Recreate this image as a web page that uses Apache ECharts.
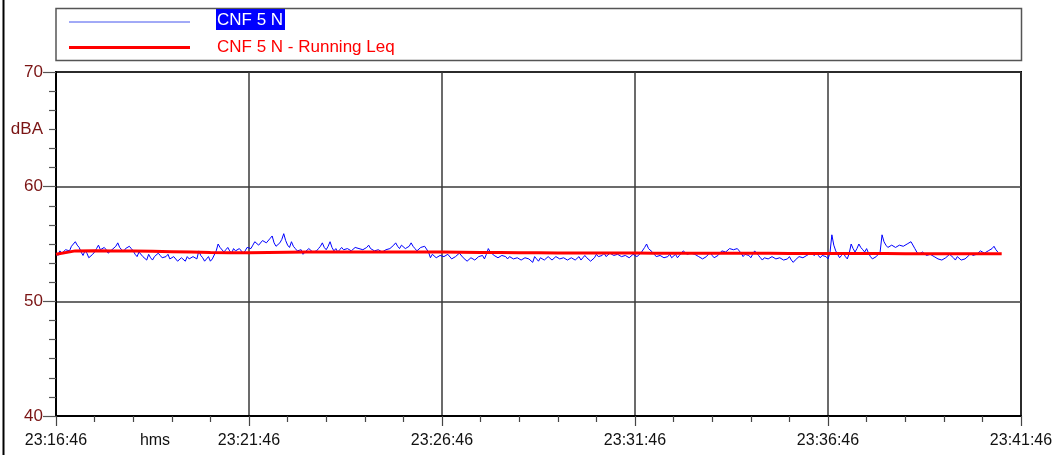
<!DOCTYPE html>
<html>
<head>
<meta charset="utf-8">
<script src="https://cdn.jsdelivr.net/npm/echarts@6/dist/echarts.min.js"></script>
<style>
html,body{margin:0;padding:0;background:#fff;}
#chart{width:1055px;height:455px;}
</style>
</head>
<body>
<div id="chart"></div>
<script>
// ---- data ----
const startClock = '23:16:46';
const xTickSeconds = [0, 300, 600, 900, 1200, 1500];
const yTicks = [40, 50, 60, 70];
const seriesNames = ['CNF 5 N', 'CNF 5 N - Running Leq'];
const levelStepSec = 3;
const levelValues = [
  54.2,54.0,54.4,54.2,54.3,54.5,54.6,54.4,54.8,55.0,55.2,54.9,54.7,54.3,54.0,54.4,54.2,53.8,53.9,54.1,
  54.3,54.6,54.9,54.5,54.4,54.7,54.5,54.2,54.3,54.5,54.6,54.8,55.1,54.7,54.5,54.3,54.6,54.5,54.8,54.6,
  54.4,54.1,53.9,54.3,54.2,53.9,53.8,53.6,54.1,53.8,53.6,53.9,53.9,54.2,54.0,53.8,53.7,53.9,54.1,53.7,
  53.6,53.9,53.8,53.5,53.4,53.8,53.7,53.5,53.9,53.7,53.6,53.9,54.0,53.7,54.4,54.0,53.8,53.5,53.7,53.9,
  53.5,53.7,53.8,54.4,55.0,54.7,54.6,54.3,54.5,54.7,54.4,54.2,54.6,54.4,54.3,54.6,54.5,54.2,54.4,54.7,
  54.8,54.6,54.9,55.2,55.1,54.9,55.0,55.3,55.4,55.1,55.2,55.5,55.7,55.1,54.8,54.9,55.1,55.4,55.9,55.3,
  54.9,54.7,55.2,54.8,54.6,54.4,54.3,54.5,54.1,54.3,54.4,54.6,54.5,54.3,54.2,54.4,54.6,54.8,55.1,54.7,
  54.5,54.8,55.2,54.7,54.4,54.6,54.3,54.5,54.7,54.5,54.4,54.6,54.6,54.4,54.5,54.7,54.8,54.6,54.7,54.5,
  54.5,54.7,54.9,54.6,54.6,54.4,54.3,54.5,54.5,54.3,54.2,54.5,54.4,54.6,54.7,54.9,55.1,54.8,54.6,54.9,
  54.8,54.6,54.5,54.8,55.1,54.8,54.6,54.4,54.4,54.7,54.6,54.8,54.9,54.3,53.8,54.1,54.0,53.8,53.7,54.0,
  54.1,53.9,53.8,54.1,54.0,53.7,53.6,53.9,53.9,54.2,54.1,53.8,53.7,53.5,53.5,53.8,53.9,53.6,53.6,53.9,
  53.8,54.0,53.7,54.1,54.6,54.3,54.2,54.0,54.0,53.8,53.8,54.0,54.1,53.9,53.7,53.9,53.9,53.7,53.6,53.8,
  53.8,53.6,53.5,53.8,53.9,53.7,53.6,53.4,53.9,53.7,53.5,53.8,53.8,53.6,53.6,53.9,53.9,53.6,53.7,53.9,
  54.0,53.7,53.6,53.8,53.8,53.6,53.5,53.8,53.9,53.6,53.7,53.9,53.6,53.8,54.0,53.8,53.7,53.5,53.5,53.8,
  54.1,53.9,53.8,54.0,54.2,53.9,54.0,54.2,54.3,54.0,53.9,54.1,54.1,53.9,53.8,54.0,54.0,53.8,53.9,54.1,
  54.1,53.9,54.0,54.2,54.3,54.7,55.0,54.6,54.5,54.3,54.1,53.9,53.8,54.0,54.0,53.8,53.7,53.9,54.1,53.8,
  53.9,54.1,53.8,54.0,54.2,54.4,54.4,54.1,54.0,54.2,54.3,54.1,54.1,53.9,53.9,53.7,53.7,53.9,54.1,54.3,
  54.0,53.8,53.8,54.0,54.2,54.4,54.5,54.3,54.3,54.6,54.7,54.5,54.4,54.6,54.5,54.2,53.9,54.1,54.2,54.0,
  53.8,54.1,54.4,54.2,54.0,53.8,53.6,53.8,53.9,53.7,53.7,53.9,54.0,53.7,53.6,53.8,53.8,53.6,53.5,53.7,
  53.9,53.6,53.4,53.6,53.7,53.9,54.0,53.8,53.8,54.0,54.1,54.2,54.3,54.0,54.2,54.0,53.8,54.0,54.1,53.9,
  53.7,54.2,55.8,54.9,54.4,54.1,53.8,54.0,54.2,53.9,53.7,54.2,55.0,54.6,54.3,54.6,55.0,54.7,54.5,54.3,
  54.6,54.2,53.9,53.7,53.7,53.9,54.0,54.3,55.8,55.2,54.9,54.7,54.7,54.9,54.9,54.7,54.8,54.9,55.0,54.8,
  54.8,55.0,54.9,55.2,55.1,54.6,54.3,54.1,54.0,54.3,54.2,54.0,53.9,54.1,54.1,53.9,54.0,53.7,53.8,53.6,
  53.5,53.8,53.9,54.1,54.1,53.8,53.6,53.9,53.8,53.6,53.5,53.7,53.8,54.0,54.2,54.0,53.9,54.1,54.2,54.4,
  54.5,54.2,54.1,54.4,54.3,54.6,54.8,54.5,54.3
];
const leqStepSec = 30;
const leqValues = [
  54.10,54.40,54.42,54.40,54.38,54.36,54.33,54.30,54.26,54.24,
  54.23,54.26,54.28,54.30,54.30,54.30,54.30,54.30,54.30,54.30,
  54.30,54.28,54.26,54.25,54.24,54.23,54.22,54.22,54.22,54.21,
  54.21,54.20,54.20,54.20,54.20,54.19,54.19,54.19,54.18,54.18,
  54.18,54.17,54.17,54.17,54.16,54.16,54.16,54.16,54.16,54.16
];

// ---- helpers ----
function clockToSec(s){const p=s.split(':').map(Number);return p[0]*3600+p[1]*60+p[2];}
const base = clockToSec(startClock);
function secToClock(v){
  let t = Math.round(base + v);
  const h = Math.floor(t/3600)%24, m = Math.floor(t%3600/60), s = t%60;
  const pad = n => String(n).padStart(2,'0');
  return pad(h)+':'+pad(m)+':'+pad(s);
}
const levelData = levelValues.map((v,i)=>[i*levelStepSec, v]);
const leqData = leqValues.map((v,i)=>[i*leqStepSec, v]);

const FONT = '"Liberation Sans", Arial, sans-serif';
const chart = echarts.init(document.getElementById('chart'), null, {renderer:'canvas'});
chart.setOption({
  animation:false,
  backgroundColor:'#fff',
  grid:{left:56, right:34, top:72, bottom:39, containLabel:false, outerBoundsMode:'none',
        show:true, borderColor:'#000', borderWidth:2, backgroundColor:'transparent'},
  xAxis:{
    type:'value', min:xTickSeconds[0], max:xTickSeconds[xTickSeconds.length-1],
    interval:xTickSeconds[1]-xTickSeconds[0],
    axisLine:{show:true, lineStyle:{color:'#000', width:2}},
    axisTick:{show:true, length:10, lineStyle:{color:'#444', width:1.2}},
    minorTick:{show:true, splitNumber:5, length:6, lineStyle:{color:'#444', width:1.2}},
    splitLine:{show:true, lineStyle:{color:'#3a3a3a', width:1.5}},
    axisLabel:{formatter:v=>secToClock(v), color:'#111', fontFamily:FONT, fontSize:16, margin:17, showMinLabel:true, showMaxLabel:true, hideOverlap:false}
  },
  yAxis:{
    type:'value', min:yTicks[0], max:yTicks[yTicks.length-1], interval:yTicks[1]-yTicks[0],
    axisLine:{show:true, lineStyle:{color:'#000', width:2}},
    axisTick:{show:true, length:13, lineStyle:{color:'#555', width:1.2}},
    minorTick:{show:true, splitNumber:6, length:7, lineStyle:{color:'#555', width:1.2}},
    splitLine:{show:true, lineStyle:{color:'#3a3a3a', width:1.5}},
    axisLabel:{color:'#7a1414', fontFamily:FONT, fontSize:17, margin:13}
  },
  series:[
    {name:seriesNames[0], type:'line', data:levelData, symbol:'none', lineStyle:{color:'#0000ff', width:1}, z:2},
    {name:seriesNames[1], type:'line', data:leqData, symbol:'none', smooth:false, lineStyle:{color:'#ff0000', width:3}, z:3}
  ],
  graphic:[
    {type:'line', shape:{x1:3.5,y1:0,x2:3.5,y2:455}, style:{stroke:'#000', lineWidth:2}},
    {type:'rect', shape:{x:56, y:8.5, width:965.5, height:52}, style:{fill:'#fff', stroke:'#555', lineWidth:1.5}},
    {type:'line', shape:{x1:69,y1:22,x2:190,y2:22}, style:{stroke:'#4455ee', lineWidth:1}},
    {type:'line', shape:{x1:69,y1:47.5,x2:190,y2:47.5}, style:{stroke:'#ff0000', lineWidth:3}},
    {type:'rect', shape:{x:216, y:9, width:69, height:21}, style:{fill:'#0000ff'}},
    {type:'text', x:217, y:20, style:{text:seriesNames[0], fill:'#fff', font:'17px '+FONT, verticalAlign:'middle', align:'left'}},
    {type:'text', x:217, y:47, style:{text:seriesNames[1], fill:'#ff0000', font:'17px '+FONT, verticalAlign:'middle', align:'left'}},
    {type:'text', x:43, y:129, style:{text:'dBA', fill:'#7a1414', font:'17px '+FONT, verticalAlign:'middle', align:'right'}},
    {type:'text', x:155, y:441, style:{text:'hms', fill:'#111', font:'16px '+FONT, verticalAlign:'middle', align:'center'}}
  ]
});
</script>
</body>
</html>
